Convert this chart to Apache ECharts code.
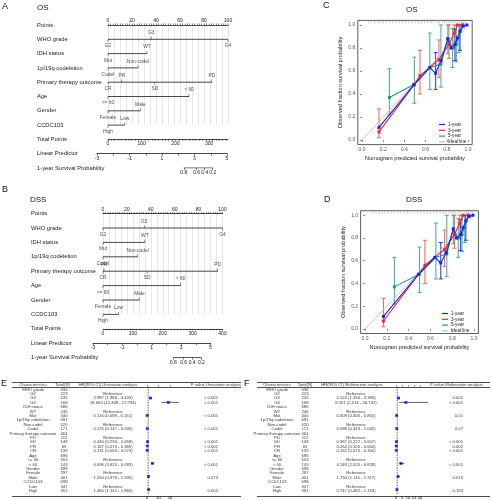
<!DOCTYPE html>
<html><head><meta charset="utf-8">
<script src="https://cdn.jsdelivr.net/npm/echarts@6/dist/echarts.min.js"></script>
<style>html,body{margin:0;padding:0;background:#fff}#c{width:492px;height:500px}</style>
</head><body><div id="c"></div>
<script>
// ================= DATA =================
// --- Nomograms ---
const nomoRowNames = ['Points','WHO grade','IDH status','1p/19q codeletion','Primary therapy outcome','Age','Gender','CCDC103','Total Points','Linear Predictor','1-year Survival Probability'];
const whoLevels = ['G2','G3','G4'];
const idhLevels = ['Mut','WT'];
const codelLevels = ['Codel','Non-codel'];
const ptoLevels = ['CR','PR','SD','PD'];
const ageLevels = ['<= 60','> 60'];
const genderLevels = ['Female','Male'];
const ccdcLevels = ['High','Low'];
const pointsLabels = [0,20,40,60,80,100];
const lpLabels = [-3,-1,1,3,5];
const survLabels = ['0.8','0.6','0.4','0.2'];
// OS nomogram (points per level)
const whoPtsOS = [0,36,100];
const idhPtsOS = [0,32.5];
const codelPtsOS = [0,25];
const ptoPtsOS = [0,11.5,39,86.5];
const agePtsOS = [0,67.5];
const genderPtsOS = [0,27];
const ccdcPtsOS = [0,14];
const tpLabelsOS = [0,100,200,300];
const tpMaxOS = 356;
const survLpOS = [2.34,3.13,3.63,4.12];
// DSS nomogram
const whoPtsDSS = [0,34.5,100];
const idhPtsDSS = [0,35];
const codelPtsDSS = [0,29];
const ptoPtsDSS = [0,0.8,37,96];
const agePtsDSS = [0,65];
const genderPtsDSS = [0,30.5];
const ccdcPtsDSS = [0,13];
const tpLabelsDSS = [0,100,200,300,400];
const tpMaxDSS = 400;
const survLpDSS = [2.47,3.17,3.75,4.38];

// --- Calibration curves ---
const calTicks = [0,0.2,0.4,0.6,0.8,1.0];
const cal1xOS = [0.16,0.49,0.64,0.695,0.745,0.81,0.84,0.877,0.90,0.925,0.955,0.99];
const cal1yOS = [0.11,0.48,0.63,0.58,0.69,0.88,0.80,0.83,0.887,0.945,0.99,1.0];
const cal3xOS = [0.16,0.49,0.547,0.726,0.82,0.87,0.90,0.95];
const cal3yOS = [0.07,0.48,0.56,0.70,0.83,0.93,1.0,1.0];
const cal5xOS = [0.258,0.494,0.64,0.745,0.81,0.855,0.89,0.915,0.95];
const cal5yOS = [0.37,0.484,0.63,0.66,0.88,0.80,0.83,0.90,1.0];
const err1OS = [[0.695,0.44,0.76],[0.877,0.69,0.96],[0.925,0.78,1.0]];
const err3OS = [[0.16,0.02,0.27],[0.547,0.40,0.78],[0.726,0.545,0.87],[0.82,0.71,1.0],[0.87,0.80,1.0]];
const err5OS = [[0.258,0.22,0.62],[0.494,0.32,0.72],[0.64,0.44,0.93],[0.745,0.46,1.0],[0.81,0.75,1.0],[0.855,0.63,0.97],[0.89,0.68,1.0],[0.915,0.76,1.0]];
const cal1xDSS = [0.17,0.49,0.64,0.695,0.745,0.81,0.84,0.877,0.90,0.925,0.955,0.99];
const cal1yDSS = [0.11,0.48,0.63,0.58,0.67,0.88,0.80,0.83,0.89,0.95,0.99,1.0];
const cal3xDSS = [0.17,0.49,0.55,0.73,0.82,0.87,0.90,0.95];
const cal3yDSS = [0.07,0.48,0.56,0.70,0.83,0.93,1.0,1.0];
const cal5xDSS = [0.27,0.50,0.65,0.75,0.81,0.855,0.89,0.915,0.95];
const cal5yDSS = [0.37,0.484,0.63,0.66,0.88,0.80,0.83,0.90,1.0];
const err1DSS = [[0.695,0.44,0.76],[0.877,0.69,0.96],[0.925,0.78,1.0]];
const err3DSS = [[0.17,0.02,0.27],[0.55,0.40,0.78],[0.73,0.55,0.87],[0.82,0.71,1.0],[0.87,0.80,1.0]];
const err5DSS = [[0.27,0.22,0.63],[0.50,0.32,0.72],[0.65,0.44,0.93],[0.75,0.46,1.0],[0.81,0.75,1.0],[0.855,0.63,0.97],[0.89,0.68,1.0],[0.915,0.76,1.0]];
const rugOS = [0.06,0.09,0.12,0.15,0.17,0.2,0.23,0.26,0.29,0.32,0.35,0.38,0.41,0.44,0.47,0.5,0.53,0.56,0.59,0.62,0.65,0.68,0.71,0.73,0.76,0.78,0.8,0.82,0.84,0.86,0.88,0.9,0.92,0.94,0.96,0.98];
const rugDSS = [0.07,0.1,0.13,0.16,0.18,0.21,0.24,0.27,0.3,0.33,0.36,0.39,0.42,0.45,0.48,0.51,0.54,0.57,0.6,0.63,0.66,0.69,0.72,0.74,0.77,0.79,0.81,0.83,0.85,0.87,0.89,0.91,0.93,0.95,0.97,0.99];

// --- Forest tables ---
const charNames = ['WHO grade','G2','G3','G4','IDH status','WT','Mut','1p/19q codeletion','Non-codel','Codel','Primary therapy outcome','PD','SD','PR','CR','Age','<= 60','> 60','Gender','Female','Male','CCDC103','Low','High'];
const totalNUni = ['636','223','245','168','686','246','440','691','520','171','464','112','148','65','139','696','553','143','698','297','401','698','347','351'];
const totalNMulti = ['636','223','245','168','686','246','440','691','520','171','464','112','148','65','139','696','553','143','698','297','401','698','347','351'];
const hrTextUni = ['','Reference','2.987 (1.986 - 4.433)','18.600 (12.448 - 27.794)','','Reference','0.116 (0.089 - 0.151)','','Reference','0.225 (0.147 - 0.346)','','Reference','0.440 (0.294 - 0.658)','0.167 (0.073 - 0.385)','0.131 (0.063 - 0.273)','','Reference','4.696 (3.620 - 6.093)','','Reference','1.250 (0.979 - 1.595)','','Reference','1.460 (1.142 - 1.865)'];
const pTextUni = ['','','< 0.001','< 0.001','','','< 0.001','','','< 0.001','','','< 0.001','< 0.001','< 0.001','','','< 0.001','','','0.073','','','0.002'];
const hrUni = [null,null,2.987,18.600,null,null,0.116,null,null,0.225,null,null,0.440,0.167,0.131,null,null,4.696,null,null,1.250,null,null,1.460];
const loUni = [null,null,1.986,12.448,null,null,0.089,null,null,0.147,null,null,0.294,0.073,0.063,null,null,3.620,null,null,0.979,null,null,1.142];
const hiUni = [null,null,4.433,27.794,null,null,0.151,null,null,0.346,null,null,0.658,0.385,0.273,null,null,6.093,null,null,1.595,null,null,1.865];
const hrTextMulti = ['','Reference','2.124 (1.334 - 3.383)','8.201 (2.516 - 26.732)','','Reference','0.509 (0.305 - 0.850)','','Reference','0.598 (0.343 - 1.042)','','Reference','0.367 (0.222 - 0.607)','0.264 (0.105 - 0.660)','0.162 (0.075 - 0.350)','','Reference','4.148 (2.520 - 6.828)','','Reference','1.750 (1.115 - 2.747)','','Reference','0.747 (0.482 - 1.159)'];
const pTextMulti = ['','','0.002','< 0.001','','','0.01','','','0.07','','','< 0.001','0.002','< 0.001','','','< 0.001','','','0.015','','','0.194'];
const hrMulti = [null,null,2.124,8.201,null,null,0.509,null,null,0.598,null,null,0.367,0.264,0.162,null,null,4.148,null,null,1.750,null,null,0.747];
const loMulti = [null,null,1.334,2.516,null,null,0.305,null,null,0.343,null,null,0.222,0.105,0.075,null,null,2.520,null,null,1.115,null,null,0.482];
const hiMulti = [null,null,3.383,26.732,null,null,0.850,null,null,1.042,null,null,0.607,0.660,0.350,null,null,6.828,null,null,2.747,null,null,1.159];
const forestTicksUni = [0,10,20];
const forestTicksMulti = [0,5,10,15,20];

// ================= BUILD =================
const FONT = 'Liberation Sans';
const TXT = '#1a1a1a';
const G = [], X = [], Y = [], S = [];
function grid(o){ G.push(o); return G.length-1; }
function xa(o){ X.push(Object.assign({type:'value'},o)); return X.length-1; }
function ya(o){ Y.push(Object.assign({type:'value'},o)); return Y.length-1; }
function seq(a,b,s){ const r=[]; for(let v=a; v<=b+1e-9; v+=s) r.push(+v.toFixed(6)); return r; }

function nomogram(L, D){
  const gf = grid({left:L.left, top:L.rowTop, width:L.width, height:10*L.step});
  const xf = xa({gridIndex:gf, min:0, max:100, show:false});
  const yf = ya({gridIndex:gf, min:0, max:10, interval:1, inverse:true,
    axisLine:{show:false}, axisTick:{show:false}, splitLine:{show:false},
    axisLabel:{align:'left', margin:L.left-L.nameX, fontSize:5.8, color:TXT, fontFamily:FONT,
      formatter:v=>nomoRowNames[Math.round(v)]||''}});
  const gg = grid({left:L.left, top:L.rowTop, width:L.width, height:7*L.step});
  xa({gridIndex:gg, min:0, max:100, interval:5, position:'bottom',
    axisLine:{show:false}, axisTick:{show:false}, axisLabel:{show:false},
    splitLine:{show:true, lineStyle:{color:'#d6d6d6', width:0.6}}});
  xa({gridIndex:gg, min:0, max:100, position:'top',
    axisLine:{lineStyle:{color:TXT, width:0.8}},
    axisTick:{customValues:seq(0,100,2), length:1.5, lineStyle:{color:TXT, width:0.5}},
    axisLabel:{customValues:pointsLabels, fontSize:5, color:TXT, margin:1.5, fontFamily:FONT},
    splitLine:{show:false}});
  ya({gridIndex:gg, min:0, max:1, show:false});
  D.vars.forEach((v, vi)=>{
    const r = vi+1;
    S.push({type:'line', xAxisIndex:xf, yAxisIndex:yf, silent:true, symbol:'none',
      lineStyle:{color:TXT, width:0.8}, data:[[Math.min(...v.pts), r],[Math.max(...v.pts), r]]});
    S.push({type:'scatter', xAxisIndex:xf, yAxisIndex:yf, silent:true, symbol:'rect',
      itemStyle:{color:TXT},
      data:v.pts.map((p,i)=>{
        const below = i%2===0;
        return {name:v.levels[i], value:[p, r], symbolSize:[0.6,2.6], symbolOffset:[0, below?1.3:-1.3],
          label:{show:true, position: below?'bottom':'top', distance:1.5, formatter:'{b}',
            fontSize:4.9, color:TXT, fontFamily:FONT}};
      })});
  });
  const gt = grid({left:L.left, top:L.rowTop+8*L.step-1, width:L.width, height:1});
  xa({gridIndex:gt, min:0, max:D.tpMax, position:'bottom',
    axisLine:{lineStyle:{color:TXT, width:0.8}},
    axisTick:{customValues:seq(0,D.tpMax,10), length:1.5, lineStyle:{color:TXT, width:0.5}},
    axisLabel:{customValues:D.tpLabels, fontSize:5, color:TXT, margin:2, fontFamily:FONT},
    splitLine:{show:false}});
  ya({gridIndex:gt, min:0, max:1, show:false});
  const gl = grid({left:L.lpLeft, top:L.rowTop+9*L.step-1, width:L.lpWidth, height:1});
  xa({gridIndex:gl, min:-3, max:5, position:'bottom',
    axisLine:{lineStyle:{color:TXT, width:0.8}},
    axisTick:{customValues:seq(-3,5,1), length:2, lineStyle:{color:TXT, width:0.6}},
    axisLabel:{customValues:lpLabels, fontSize:5, color:TXT, margin:2.2, fontFamily:FONT},
    splitLine:{show:false}});
  ya({gridIndex:gl, min:0, max:1, show:false});
  const gs = grid({left:L.lpLeft, top:L.rowTop+10*L.step-1, width:L.lpWidth, height:1});
  const xs = xa({gridIndex:gs, min:-3, max:5, position:'bottom',
    axisLine:{show:false},
    axisTick:{customValues:D.survLp, length:2, lineStyle:{color:TXT, width:0.6}},
    axisLabel:{customValues:D.survLp, fontSize:5, color:TXT, margin:2.2, fontFamily:FONT,
      formatter:v=>{ let k=0,b=1e9; D.survLp.forEach((s,i)=>{ if(Math.abs(s-v)<b){b=Math.abs(s-v);k=i;} }); return survLabels[k]; }},
    splitLine:{show:false}});
  const ys = ya({gridIndex:gs, min:0, max:1, show:false});
  S.push({type:'line', xAxisIndex:xs, yAxisIndex:ys, silent:true, symbol:'none',
    lineStyle:{color:TXT, width:0.8}, data:[[D.survLp[0],0],[D.survLp[D.survLp.length-1],0]]});
}

nomogram({left:108, width:120, rowTop:25, step:14.3, nameX:37, lpLeft:97, lpWidth:130},
  {vars:[{levels:whoLevels,pts:whoPtsOS},{levels:idhLevels,pts:idhPtsOS},{levels:codelLevels,pts:codelPtsOS},
    {levels:ptoLevels,pts:ptoPtsOS},{levels:ageLevels,pts:agePtsOS},{levels:genderLevels,pts:genderPtsOS},{levels:ccdcLevels,pts:ccdcPtsOS}],
   tpMax:tpMaxOS, tpLabels:tpLabelsOS, survLp:survLpOS});
nomogram({left:103, width:119.5, rowTop:213.6, step:14.4, nameX:31, lpLeft:93, lpWidth:117.5},
  {vars:[{levels:whoLevels,pts:whoPtsDSS},{levels:idhLevels,pts:idhPtsDSS},{levels:codelLevels,pts:codelPtsDSS},
    {levels:ptoLevels,pts:ptoPtsDSS},{levels:ageLevels,pts:agePtsDSS},{levels:genderLevels,pts:genderPtsDSS},{levels:ccdcLevels,pts:ccdcPtsDSS}],
   tpMax:tpMaxDSS, tpLabels:tpLabelsDSS, survLp:survLpDSS});

// ---- calibration ----
const C_BLUE='#1f1ff2', C_RED='#ee2a22', C_GREEN='#1a9c7e', C_GRAY='#bdbdbd';
function errRender(params, api){
  const x=api.value(0), lo=api.value(1), hi=api.value(2);
  const p1=api.coord([x,lo]), p2=api.coord([x,hi]);
  const w=2; const st={stroke:api.visual('color'), lineWidth:1.05};
  return {type:'group', children:[
    {type:'line', shape:{x1:p1[0],y1:p1[1],x2:p2[0],y2:p2[1]}, style:st},
    {type:'line', shape:{x1:p1[0]-w,y1:p1[1],x2:p1[0]+w,y2:p1[1]}, style:st},
    {type:'line', shape:{x1:p2[0]-w,y1:p2[1],x2:p2[0]+w,y2:p2[1]}, style:st}]};
}
const rugColors=['#f4a098','#86cfba','#a0a0f2'];
function rugRender(params, api){
  const x=api.value(0);
  const p1=api.coord([x,1.014]), p2=api.coord([x,1.036]);
  return {type:'line', shape:{x1:p1[0],y1:p1[1],x2:p2[0],y2:p2[1]},
    style:{stroke:rugColors[params.dataIndex%3], lineWidth:0.7}};
}
function calPanel(L, D){
  const g = grid({left:L.left, top:L.top, width:L.width, height:L.height, show:true,
    borderColor:'#333', borderWidth:0.8, backgroundColor:'transparent'});
  const x = xa({gridIndex:g, min:-0.04, max:1.04, name:'Nomogram predicted survival probability',
    nameLocation:'middle', nameGap:11, nameTextStyle:{fontSize:5.6, color:TXT, fontFamily:FONT},
    axisLine:{show:false}, axisTick:{customValues:calTicks, length:2, lineStyle:{color:'#333', width:0.6}},
    axisLabel:{customValues:calTicks, formatter:v=>v.toFixed(1), fontSize:5, color:'#555', margin:2.5, fontFamily:FONT},
    splitLine:{show:false}});
  const y = ya({gridIndex:g, min:-0.04, max:1.04, name:'Observed fraction survival probability',
    nameLocation:'middle', nameGap:14, nameTextStyle:{fontSize:5.6, color:TXT, fontFamily:FONT},
    axisLine:{show:false}, axisTick:{customValues:calTicks, length:2, lineStyle:{color:'#333', width:0.6}},
    axisLabel:{customValues:calTicks, formatter:v=>v.toFixed(1), fontSize:5, color:'#555', margin:2.5, fontFamily:FONT},
    splitLine:{show:false}});
  S.push({type:'custom', xAxisIndex:x, yAxisIndex:y, silent:true, renderItem:rugRender, data:D.rug.map(v=>[v,1.02])});
  S.push({name:'Ideal line', type:'line', xAxisIndex:x, yAxisIndex:y, silent:true, symbol:'none',
    itemStyle:{color:C_GRAY}, lineStyle:{color:C_GRAY, width:0.9}, data:[[0,0],[1,1]]});
  S.push({type:'custom', xAxisIndex:x, yAxisIndex:y, silent:true, renderItem:errRender, itemStyle:{color:'#3fb497'}, data:D.e5});
  S.push({type:'custom', xAxisIndex:x, yAxisIndex:y, silent:true, renderItem:errRender, itemStyle:{color:'#f2695c'}, data:D.e3});
  S.push({type:'custom', xAxisIndex:x, yAxisIndex:y, silent:true, renderItem:errRender, itemStyle:{color:'#3434ee'}, data:D.e1});
  S.push({name:'5-year', type:'line', xAxisIndex:x, yAxisIndex:y, silent:true, symbol:'rect', symbolSize:3,
    itemStyle:{color:C_GREEN}, lineStyle:{color:C_GREEN, width:1.1}, data:D.x5.map((v,i)=>[v,D.y5[i]])});
  S.push({name:'3-year', type:'line', xAxisIndex:x, yAxisIndex:y, silent:true, symbol:'rect', symbolSize:3,
    itemStyle:{color:C_RED}, lineStyle:{color:C_RED, width:1.1}, data:D.x3.map((v,i)=>[v,D.y3[i]])});
  S.push({name:'1-year', type:'line', xAxisIndex:x, yAxisIndex:y, silent:true, symbol:'rect', symbolSize:3,
    itemStyle:{color:C_BLUE}, lineStyle:{color:C_BLUE, width:1.1}, data:D.x1.map((v,i)=>[v,D.y1[i]])});
}
calPanel({left:357.8, top:20.4, width:114.4, height:124.2},
  {x1:cal1xOS,y1:cal1yOS,x3:cal3xOS,y3:cal3yOS,x5:cal5xOS,y5:cal5yOS,e1:err1OS,e3:err3OS,e5:err5OS,rug:rugOS});
calPanel({left:360.6, top:210.7, width:117.8, height:122.8},
  {x1:cal1xDSS,y1:cal1yDSS,x3:cal3xDSS,y3:cal3yDSS,x5:cal5xDSS,y5:cal5yDSS,e1:err1DSS,e3:err3DSS,e5:err5DSS,rug:rugDSS});

// ---- forest tables ----
function textSeries(xi, yi, items, pos){
  S.push({type:'scatter', xAxisIndex:xi, yAxisIndex:yi, silent:true, symbolSize:0,
    label:{show:true, position:pos||'inside', distance:0, formatter:'{b}', fontSize:4.2, color:'#000', fontFamily:FONT},
    data:items.filter(d=>d.name!=='')});
}
function forest(L, T){
  const top = 382.35, height = 113.8;
  const gt = grid({left:L.left, top:top, width:L.width, height:height});
  const xt = xa({gridIndex:gt, min:0, max:L.width, show:false});
  const yt = ya({gridIndex:gt, min:-0.6, max:25.2, inverse:true, show:false});
  textSeries(xt, yt, T.headers.map((h,i)=>({name:h, value:[L.headX[i], 0]})));
  textSeries(xt, yt, charNames.map((n,i)=>({name:n, value:[L.colChar, i+1]})));
  textSeries(xt, yt, T.n.map((n,i)=>({name:n, value:[L.colN, i+1]})));
  textSeries(xt, yt, T.hrText.map((n,i)=>({name:n, value:[L.colHR, i+1]})));
  textSeries(xt, yt, T.pText.map((n,i)=>({name:n, value:[L.colP, i+1]})), 'left');
  S.push({type:'line', xAxisIndex:xt, yAxisIndex:yt, silent:true, data:[],
    markLine:{silent:true, symbol:'none', label:{show:false}, lineStyle:{color:'#000', width:0.7, type:'solid'},
      data:[{yAxis:-0.6},{yAxis:0.5},{yAxis:25.2}]}});
  const gf = grid({left:L.fLeft, top:top, width:L.fWidth, height:height});
  const xf = xa({gridIndex:gf, min:0, max:L.fMax, position:'bottom',
    axisLine:{show:false}, axisTick:{customValues:T.ticks, length:1.5, lineStyle:{color:'#000', width:0.5}},
    axisLabel:{customValues:T.ticks, fontSize:4, color:'#000', margin:1.2, fontFamily:FONT}, splitLine:{show:false}});
  const yf = ya({gridIndex:gf, min:-0.6, max:25.2, inverse:true, show:false});
  S.push({type:'line', xAxisIndex:xf, yAxisIndex:yf, silent:true, symbol:'none',
    lineStyle:{color:'#000', width:0.6, type:[1.5,1]}, data:[[1,0.5],[1,25.2]]});
  const ci = []; const pts = [];
  T.hr.forEach((h,i)=>{ if(h!==null){ ci.push([T.lo[i], T.hi[i], i+1]); pts.push([h, i+1]); } });
  S.push({type:'custom', xAxisIndex:xf, yAxisIndex:yf, silent:true, data:ci,
    renderItem:(p,api)=>{ const a=api.coord([api.value(0),api.value(2)]), b=api.coord([api.value(1),api.value(2)]);
      return {type:'line', shape:{x1:a[0],y1:a[1],x2:b[0],y2:b[1]}, style:{stroke:'#222', lineWidth:0.7}}; }});
  S.push({type:'scatter', xAxisIndex:xf, yAxisIndex:yf, silent:true, symbol:'rect', symbolSize:2.8,
    itemStyle:{color:'#0000ee'}, data:pts});
}
forest({left:12, width:229, colChar:21, colN:52, colHR:101, colP:206, headX:[21,50.5,96,204],
  fLeft:147, fWidth:32.2, fMax:28},
  {headers:['Characteristics','Total(N)','HR(95% CI) Univariate analysis','P value Univariate analysis'],
   n:totalNUni, hrText:hrTextUni, pText:pTextUni, hr:hrUni, lo:loUni, hi:hiUni, ticks:forestTicksUni});
forest({left:257, width:233, colChar:20, colN:48, colHR:99, colP:206, headX:[20,48,95,199.5],
  fLeft:396, fWidth:32.4, fMax:27},
  {headers:['Characteristics','Total(N)','HR(95% CI) Multivariate analysis','P value Multivariate analysis'],
   n:totalNMulti, hrText:hrTextMulti, pText:pTextMulti, hr:hrMulti, lo:loMulti, hi:hiMulti, ticks:forestTicksMulti});

// ---- titles ----
function t(text, left, top, size){ return {text, left, top, padding:0, textStyle:{fontSize:size, fontWeight:'normal', color:'#111', fontFamily:FONT}}; }
const titles = [
  t('A',2,2,9), t('OS',37,4,8),
  t('B',2,185,9), t('DSS',30,196,8),
  t('C',323,1,9), t('OS',406,6,8),
  t('D',324,195,9), t('DSS',406,196,8),
  t('E',1,379,9), t('F',244,379,9)
];
const legendItems = ['1-year','3-year','5-year','Ideal line'];
const legendBase = {data:legendItems, orient:'vertical', itemWidth:6, itemHeight:1.2, itemGap:0.8, icon:'rect',
  padding:0, selectedMode:false, textStyle:{fontSize:4.6, color:TXT, fontFamily:FONT, padding:[0,0,0,-2]}};

const chart = echarts.init(document.getElementById('c'), null, {renderer:'canvas'});
chart.setOption({
  animation:false,
  backgroundColor:'#fff',
  textStyle:{fontFamily:FONT},
  title:titles,
  legend:[Object.assign({left:439, top:122}, legendBase), Object.assign({left:442, top:311}, legendBase)],
  grid:G, xAxis:X, yAxis:Y, series:S
});
</script></body></html>
